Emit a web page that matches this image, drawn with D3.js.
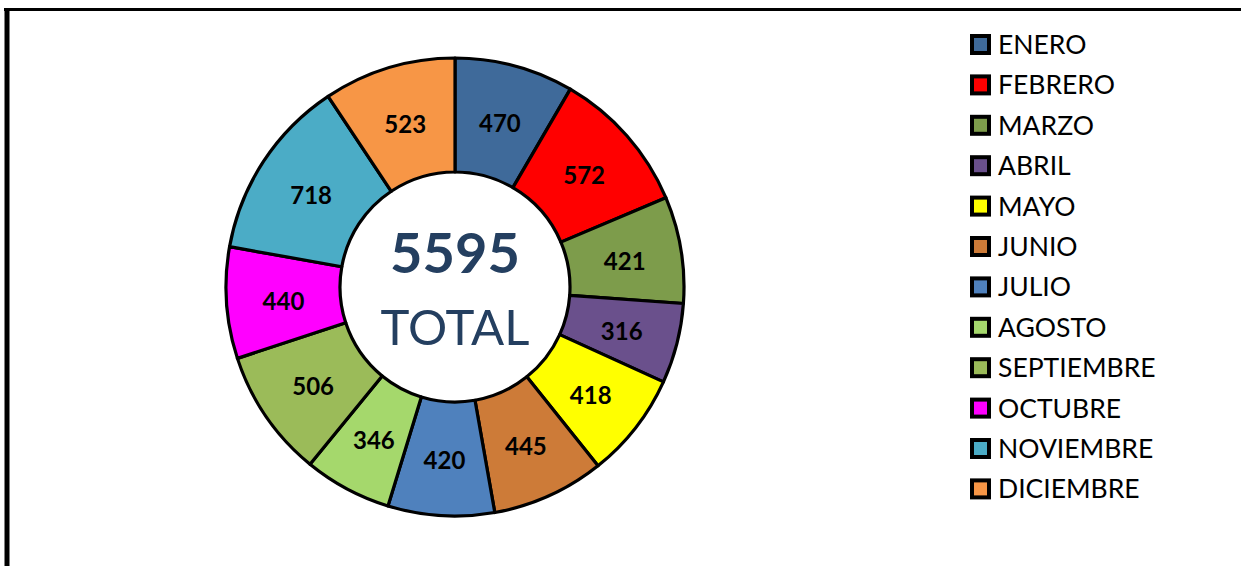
<!DOCTYPE html>
<html>
<head>
<meta charset="utf-8">
<script src="https://cdn.jsdelivr.net/npm/d3@7"></script>
<style>
  body { margin: 0; background: #fff; }
  svg { display: block; }
  text { font-family: Lato, "Open Sans", sans-serif; }
</style>
</head>
<body>
<div id="demo"></div>
<script>
let months = ["ENERO", "FEBRERO", "MARZO", "ABRIL", "MAYO", "JUNIO", "JULIO", "AGOSTO", "SEPTIEMBRE", "OCTUBRE", "NOVIEMBRE", "DICIEMBRE"];
let values = [470, 572, 421, 316, 418, 445, 420, 346, 506, 440, 718, 523];
let colors = ["#3F6A9A", "#FF0000", "#7D9C4B", "#6A508C", "#FFFF00", "#CD7B38", "#4F81BD", "#A5D86C", "#9BBB59", "#FF00FF", "#4BACC6", "#F79646"];
let centerLabel = "TOTAL";

let w = 1241;
let h = 566;
let cx = 455, cy = 287;
let outerR = 229, innerR = 115;

let svg = d3.select("#demo")
    .append("svg")
    .attr("width", w)
    .attr("height", h);

// frame (only top and left edges show in the picture)
svg.append("line")
    .attr("x1", 4).attr("x2", w)
    .attr("y1", 9.5).attr("y2", 9.5)
    .style("stroke", "black")
    .style("stroke-width", 3);
svg.append("line")
    .attr("x1", 7).attr("x2", 7)
    .attr("y1", 8).attr("y2", h)
    .style("stroke", "black")
    .style("stroke-width", 5);

let color = d3.scaleOrdinal()
    .domain(months)
    .range(colors);

let pie = d3.pie()
    .sort(null)
    .value((d, i) => values[i]);

let arc = d3.arc()
    .innerRadius(innerR)
    .outerRadius(outerR);

let g = svg.append("g")
    .attr("transform", "translate(" + cx + "," + cy + ")");

let slices = g.selectAll("g.slice")
    .data(pie(months))
    .enter()
    .append("g")
    .attr("class", "slice");

slices.append("path")
    .attr("d", arc)
    .style("fill", (d) => color(d.data))
    .style("stroke", "black")
    .style("stroke-width", 3.2)
    .style("stroke-linejoin", "round");

slices.append("text")
    .attr("transform", (d) => "translate(" + arc.centroid(d) + ")")
    .attr("text-anchor", "middle")
    .attr("dy", "0.45em")
    .style("font-size", "24px")
    .style("font-weight", "bold")
    .text((d) => d.value);

// centre total
let total = d3.sum(values);
g.append("text")
    .attr("text-anchor", "middle")
    .attr("y", -14)
    .style("font-size", "56px")
    .style("font-weight", "bold")
    .style("fill", "#243F60")
    .text(total);
g.append("text")
    .attr("text-anchor", "middle")
    .attr("y", 58)
    .style("font-size", "49px")
    .style("fill", "#243F60")
    .text(centerLabel);

//Creating legend element.
let lBlock = 17;
let lStep = 40.4;
let legend = svg.append("g")
    .attr("transform", "translate(972, 36)");

let items = legend.selectAll("g")
    .data(months)
    .enter()
    .append("g")
    .attr("transform", (d, i) => "translate(0," + (i * lStep) + ")");

items.append("rect")
    .attr("width", lBlock)
    .attr("height", lBlock)
    .style("fill", (d) => color(d))
    .style("stroke", "black")
    .style("stroke-width", 4);

items.append("text")
    .attr("x", 26)
    .attr("y", lBlock / 2)
    .attr("dy", "0.36em")
    .style("font-size", "26.5px")
    .text((d) => d);
</script>
</body>
</html>
